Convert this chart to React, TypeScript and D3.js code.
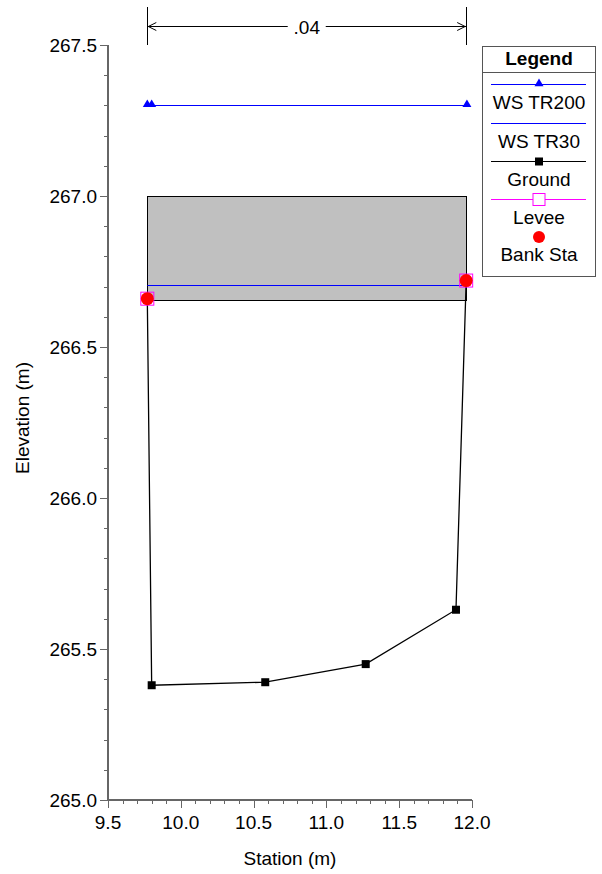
import React from "react";
import * as d3 from "d3";

const groundStation = [9.77, 9.8, 10.58, 11.27, 11.89, 11.96];
const groundElev = [266.66, 265.38, 265.39, 265.45, 265.63, 266.72];
const bankStation = [9.77, 11.96];
const bankElev = [266.66, 266.72];
const wsTR200 = 267.3;
const wsTR200Markers = [9.77, 9.8, 11.965];
const wsTR30 = 266.705;
const deckTop = 267.0;
const deckBottom = 266.655;
const nValue = ".04";
const xTicks = [9.5, 10.0, 10.5, 11.0, 11.5, 12.0];
const yTicks = [265.0, 265.5, 266.0, 266.5, 267.0, 267.5];
const legendItems = ["WS TR200", "WS TR30", "Ground", "Levee", "Bank Sta"];

const FONT = "'Liberation Sans', Arial, sans-serif";
const FS = 19;

const snap = (v: number) => Math.round(v) + 0.5;

export default function App() {
  const x = d3.scaleLinear().domain([9.5, 12.0]).range([108, 472]);
  const y = d3.scaleLinear().domain([265.0, 267.5]).range([800, 45]);
  const axisColor = "#666";

  const xMinor = d3.range(95, 121).map((v) => v / 10);
  const yMinor = d3.range(2650, 2676).map((v) => v / 10);

  const ground = groundStation.map((s, i) => [x(s), y(groundElev[i])] as [number, number]);
  const line = d3.line();

  const xl = x(bankStation[0]);
  const xr = x(bankStation[1]);
  const ay = 26.5;

  const tri = (cx: number, cy: number, s = 4.5) =>
    `M${cx},${cy - s * 1.1}L${cx + s},${cy + s * 0.6}L${cx - s},${cy + s * 0.6}Z`;

  const legX0 = 482.5;
  const legX1 = 595.5;
  const lineX0 = 491;
  const lineX1 = 586;
  const lcx = (legX0 + legX1) / 2;
  const rows = [84.5, 123.5, 161.5, 199.5, 237];

  return (
    <svg
      width={602}
      height={874}
      style={{ position: "absolute", left: 0, top: 0, display: "block", background: "#fff" }}
      fontFamily={FONT}
    >
      {/* deck / obstruction box */}
      <rect
        x={snap(xl)}
        y={snap(y(deckTop))}
        width={Math.round(xr - xl)}
        height={Math.round(y(deckBottom) - y(deckTop))}
        fill="#c0c0c0"
        stroke="#000"
        strokeWidth={1}
      />
      {/* WS TR30 */}
      <line x1={xl} x2={xr} y1={snap(y(wsTR30))} y2={snap(y(wsTR30))} stroke="#0000ff" strokeWidth={1} />
      {/* WS TR200 */}
      <line x1={xl} x2={x(wsTR200Markers[2])} y1={snap(y(wsTR200))} y2={snap(y(wsTR200))} stroke="#0000ff" strokeWidth={1} />
      {wsTR200Markers.map((s, i) => (
        <path key={i} d={tri(x(s), y(wsTR200) - 1)} fill="#0000ff" />
      ))}
      {/* Ground */}
      <path d={line(ground) || ""} fill="none" stroke="#000" strokeWidth={1.3} />
      {ground.map(([gx, gy], i) => (
        <rect key={i} x={gx - 4} y={gy - 4} width={8} height={8} fill="#000" />
      ))}
      {/* Levee */}
      {bankStation.map((s, i) => (
        <rect
          key={i}
          x={x(s) - 6.5}
          y={y(bankElev[i]) - 6.5}
          width={13}
          height={13}
          fill="none"
          stroke="#ff00ff"
          strokeWidth={1}
        />
      ))}
      {/* Bank Sta */}
      {bankStation.map((s, i) => (
        <circle key={i} cx={x(s)} cy={y(bankElev[i])} r={6.5} fill="#ff0000" />
      ))}

      {/* n-value annotation */}
      <line x1={snap(xl)} x2={snap(xl)} y1={7} y2={45} stroke="#000" />
      <line x1={snap(xr)} x2={snap(xr)} y1={7} y2={45} stroke="#000" />
      <line x1={xl} x2={(xl + xr) / 2 - 19} y1={ay} y2={ay} stroke="#000" />
      <line x1={(xl + xr) / 2 + 19} x2={xr} y1={ay} y2={ay} stroke="#000" />
      <path d={`M${xl + 9},${ay - 4}L${xl + 1},${ay}L${xl + 9},${ay + 4}`} fill="none" stroke="#000" />
      <path d={`M${xr - 9},${ay - 4}L${xr - 1},${ay}L${xr - 9},${ay + 4}`} fill="none" stroke="#000" />
      <text x={(xl + xr) / 2} y={ay + 7} textAnchor="middle" fontSize={FS} fill="#000">
        {nValue}
      </text>

      {/* axes */}
      <line x1={108} x2={108} y1={45} y2={800} stroke={axisColor} strokeWidth={2} />
      <line x1={107} x2={472} y1={800} y2={800} stroke={axisColor} strokeWidth={2} />
      {yMinor.map((v, i) => (
        <line key={i} x1={108} x2={i % 5 === 0 ? 100 : 104} y1={snap(y(v))} y2={snap(y(v))} stroke={axisColor} />
      ))}
      {xMinor.map((v, i) => (
        <line key={i} x1={snap(x(v))} x2={snap(x(v))} y1={800} y2={i % 5 === 0 ? 808 : 804} stroke={axisColor} />
      ))}
      {yTicks.map((v) => (
        <text key={v} x={97} y={y(v) + 7} textAnchor="end" fontSize={FS} fill="#000">
          {v.toFixed(1)}
        </text>
      ))}
      {xTicks.map((v) => (
        <text key={v} x={x(v)} y={829} textAnchor="middle" fontSize={FS} fill="#000">
          {v.toFixed(1)}
        </text>
      ))}
      <text x={290} y={865} textAnchor="middle" fontSize={FS} fill="#000">
        Station (m)
      </text>
      <text
        transform={`translate(29,418) rotate(-90)`}
        textAnchor="middle"
        fontSize={FS}
        fill="#000"
      >
        Elevation (m)
      </text>

      {/* legend */}
      <rect x={legX0} y={46.5} width={legX1 - legX0} height={230} fill="#fff" stroke="#555" />
      <line x1={legX0} x2={legX1} y1={72.5} y2={72.5} stroke="#555" />
      <line x1={lineX0} x2={lineX1} y1={rows[0]} y2={rows[0]} stroke="#0000ff" />
      <line x1={lineX0} x2={lineX1} y1={rows[1]} y2={rows[1]} stroke="#0000ff" />
      <line x1={lineX0} x2={lineX1} y1={rows[2]} y2={rows[2]} stroke="#000" />
      <line x1={lineX0} x2={lineX1} y1={rows[3]} y2={rows[3]} stroke="#ff00ff" />
      <text x={lcx} y={65} textAnchor="middle" fontSize={FS} fontWeight="bold" fill="#000">
        Legend
      </text>
      <path d={tri(lcx, rows[0] - 1)} fill="#0000ff" />
      <rect x={lcx - 4} y={rows[2] - 4} width={8} height={8} fill="#000" />
      <rect x={lcx - 6} y={rows[3] - 6} width={12} height={12} fill="#fff" stroke="#ff00ff" />
      <circle cx={lcx} cy={rows[4]} r={6} fill="#ff0000" />
      {legendItems.map((t, i) => (
        <text key={t} x={lcx} y={rows[i] + 24} textAnchor="middle" fontSize={FS} fill="#000">
          {t}
        </text>
      ))}
    </svg>
  );
}
